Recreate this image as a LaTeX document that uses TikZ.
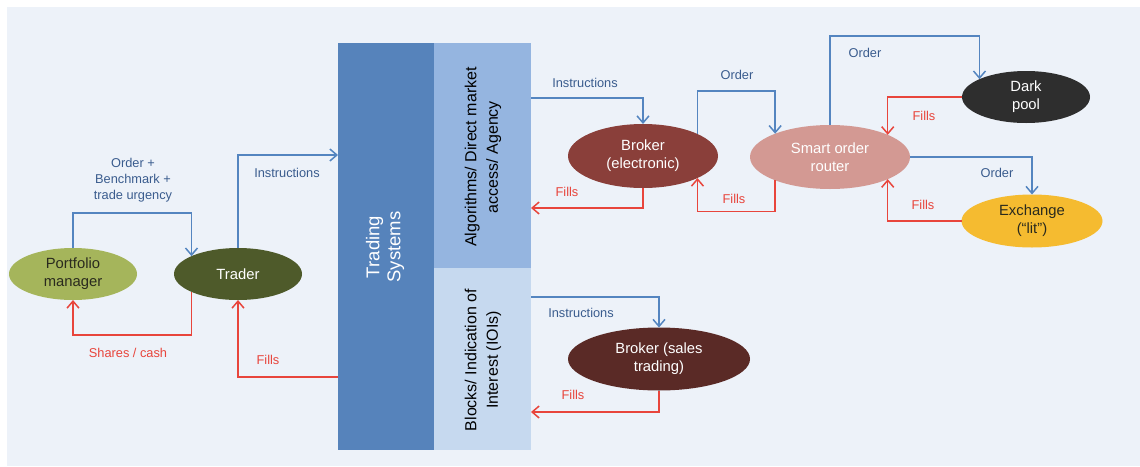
\documentclass[tikz,border=0pt]{standalone}
\usepackage{fontspec}
\setmainfont{Liberation Sans}
\usetikzlibrary{shapes.geometric,arrows.meta,calc}
\definecolor{panel}{HTML}{EDF2F9}
\definecolor{tsdark}{HTML}{5683BB}
\definecolor{tsmid}{HTML}{95B5E0}
\definecolor{tslight}{HTML}{C6D9EF}
\definecolor{pmcol}{HTML}{A5B55B}
\definecolor{trcol}{HTML}{4E5A2A}
\definecolor{becol}{HTML}{8A3F3A}
\definecolor{sorcol}{HTML}{D39993}
\definecolor{dpcol}{HTML}{2E2E2E}
\definecolor{excol}{HTML}{F5BB30}
\definecolor{bscol}{HTML}{5A2A26}
\definecolor{bline}{HTML}{5485C0}
\definecolor{rline}{HTML}{E8453C}
\definecolor{btext}{HTML}{3A5C8E}
\definecolor{darktext}{HTML}{2A2A1E}
\tikzset{
  oval/.style={ellipse, inner sep=0pt, outer sep=0pt, align=center,
    font=\fontsize{14.8}{18}\selectfont},
  box/.style={rectangle, inner sep=0pt, outer sep=0pt, anchor=north west},
  bflow/.style={draw=bline, line width=1.5pt, -{Straight Barb[length=7pt,width=12pt,line width=1.5pt]}},
  rflow/.style={draw=rline, line width=1.5pt, -{Straight Barb[length=7pt,width=12pt,line width=1.5pt]}},
  blab/.style={text=btext, align=center, font=\fontsize{12.8}{16}\selectfont},
  rlab/.style={text=rline, align=center, font=\fontsize{12.8}{16}\selectfont},
  vtext/.style={rotate=90, align=center, font=\fontsize{16}{21.5}\selectfont}
}
\begin{document}
\begin{tikzpicture}[x=1pt,y=-1pt]
\useasboundingbox (0,0) rectangle (1140,466);
\fill[white] (0,0) rectangle (1140,466);
\fill[panel] (7,7) rectangle (1140,466);

% trading systems blocks
\node[box, fill=tsdark, minimum width=96pt, minimum height=407pt] (ts) at (338,43) {};
\node[box, fill=tsmid, minimum width=97pt, minimum height=225pt] (algo) at (434,43) {};
\node[box, fill=tslight, minimum width=97pt, minimum height=182pt] (blk) at (434,268) {};
\node[vtext, text=white, font=\fontsize{18.5}{21}\selectfont] (tstext) at (385,247) {Trading\\Systems};
\node[vtext, text=black] (algotext) at (483,157) {Algorithms/ Direct market\\access/ Agency};
\node[vtext, text=black] (blktext) at (483,360) {Blocks/ Indication of\\Interest (IOIs)};

% ellipses
\node[oval, fill=pmcol, text=darktext, minimum width=128pt, minimum height=52pt] (pm) at (73,274) {Portfolio\\manager};
\node[oval, fill=trcol, text=white, minimum width=128pt, minimum height=52pt] (trader) at (238,274) {Trader};
\node[oval, fill=becol, text=white, minimum width=150pt, minimum height=64pt] (be) at (643,156) {Broker\\(electronic)};
\node[oval, fill=sorcol, text=white, minimum width=160pt, minimum height=64pt] (sor) at (830,157) {Smart order\\router};
\node[oval, fill=dpcol, text=white, minimum width=128pt, minimum height=52pt] (dp) at (1026,97) {Dark\\pool};
\node[oval, fill=excol, text=darktext, minimum width=141pt, minimum height=53pt] (ex) at (1032,221) {Exchange\\(“lit”)};
\node[oval, fill=bscol, text=white, minimum width=182pt, minimum height=63pt] (bs) at (659,359) {Broker (sales\\trading)};

% blue flows
\draw[bflow] (pm.north) -- ++(0,-35) -| (trader.159);
\draw[bflow] (trader.north) |- ($(ts.north west)+(0,112)$);
\draw[bflow] ($(algo.north east)+(0,55)$) -| (be.north);
\draw[bflow] (be.22) -- ++(0,-43) -| (sor.157);
\draw[bflow] (sor.north) -- ++(0,-89) -| (dp.159);
\draw[bflow] (sor.east) -| (ex.north);
\draw[bflow] ($(blk.north east)+(0,29)$) -| (bs.north);

% red flows
\draw[rflow] (trader.201) |- ($(pm.south)+(0,35)$) -- (pm.south);
\draw[rflow] ($(ts.north west)+(0,334)$) -| (trader.south);
\draw[rflow] (be.south) |- ($(algo.north east)+(0,165)$);
\draw[rflow] (sor.203) -- ++(0,31) -| (be.338);
\draw[rflow] (dp.west) -| (sor.21);
\draw[rflow] (ex.west) -| (sor.339);
\draw[rflow] (bs.south) |- ($(blk.north east)+(0,144)$);

% labels
\node[blab] (l1) at (133,180) {Order +\\Benchmark +\\trade urgency};
\node[blab] (l2) at (287,173) {Instructions};
\node[rlab] (l3) at (128,353) {Shares / cash};
\node[rlab] (l4) at (268,360) {Fills};
\node[blab] (l5) at (585,83) {Instructions};
\node[rlab] (l6) at (567,192) {Fills};
\node[blab] (l7) at (737,75) {Order};
\node[rlab] (l8) at (734,199) {Fills};
\node[blab] (l9) at (865,53) {Order};
\node[rlab] (l10) at (924,116) {Fills};
\node[blab] (l11) at (997,173) {Order};
\node[rlab] (l12) at (923,205) {Fills};
\node[blab] (l13) at (581,313) {Instructions};
\node[rlab] (l14) at (573,395) {Fills};
\end{tikzpicture}
\end{document}
